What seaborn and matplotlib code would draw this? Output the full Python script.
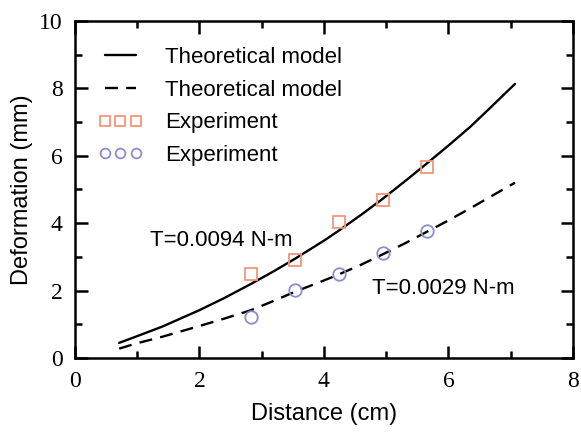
import matplotlib
matplotlib.use("Agg")
import matplotlib.pyplot as plt
from matplotlib.ticker import MultipleLocator
import seaborn as sns
import pandas as pd

# Theoretical curves
theory_x = [0.71, 1.0, 1.4, 2.0, 2.4, 2.83, 3.2, 3.54, 4.0, 4.24, 4.6, 4.95, 5.3, 5.66, 6.0, 6.36, 6.7, 7.07]
theory_high = [0.45, 0.65, 0.93, 1.42, 1.78, 2.2, 2.58, 2.95, 3.48, 3.78, 4.25, 4.73, 5.24, 5.78, 6.3, 6.87, 7.47, 8.13]
theory_low = [0.28, 0.44, 0.63, 0.95, 1.17, 1.42, 1.7, 1.97, 2.3, 2.48, 2.77, 3.08, 3.4, 3.75, 4.08, 4.45, 4.81, 5.2]

# Experimental points
exp_x = [2.83, 3.54, 4.24, 4.95, 5.66]
exp_high = [2.5, 2.9, 4.02, 4.68, 5.66]
exp_low = [1.23, 2.02, 2.49, 3.12, 3.77]

label_theory = "Theoretical model"
label_exp = "Experiment"
ann_high = "T=0.0094 N-m"
ann_low = "T=0.0029 N-m"

sns.set_theme(style="ticks")
plt.rcParams["font.family"] = ["Liberation Sans", "DejaVu Sans"]
plt.rcParams["text.color"] = "black"
plt.rcParams["axes.labelcolor"] = "black"

fig = plt.figure(figsize=(5.81, 4.34), dpi=100)
ax = fig.add_axes([0.129, 0.175, 0.857, 0.777])

df_th = pd.DataFrame({"x": theory_x, "hi": theory_high, "lo": theory_low})
df_ex = pd.DataFrame({"x": exp_x, "hi": exp_high, "lo": exp_low})

sns.lineplot(data=df_th, x="x", y="hi", ax=ax, color="black", lw=1.7,
             label=label_theory)
sns.lineplot(data=df_th, x="x", y="lo", ax=ax, color="black", lw=1.7,
             linestyle=(0, (5.5, 3.5)), label=label_theory)
ax.plot(df_ex["x"], df_ex["hi"], ls="none", marker="s", ms=8.5, mfc="none",
        mec="#f4967a", mew=1.3, label=label_exp)
ax.plot(df_ex["x"], df_ex["lo"], ls="none", marker="o", ms=9, mfc="none",
        mec="#8c8cd4", mew=1.3, label=label_exp)

ax.set_xlim(0, 8)
ax.set_ylim(0, 10)
ax.xaxis.set_major_locator(MultipleLocator(2))
ax.xaxis.set_minor_locator(MultipleLocator(1))
ax.yaxis.set_major_locator(MultipleLocator(2))
ax.yaxis.set_minor_locator(MultipleLocator(1))
ax.tick_params(which="both", direction="in", top=True, right=True,
               width=1.8, colors="black")
ax.tick_params(which="major", length=9, labelsize=17)
ax.tick_params(axis="x", which="major", pad=9)
ax.tick_params(axis="y", which="major", pad=9)
ax.tick_params(which="minor", length=5)
for lab in ax.get_xticklabels() + ax.get_yticklabels():
    lab.set_family(["Liberation Serif", "DejaVu Serif"])
for sp in ax.spines.values():
    sp.set_linewidth(1.8)
    sp.set_color("black")

ax.set_xlabel("Distance (cm)", fontsize=17, labelpad=8)
ax.set_ylabel("Deformation (mm)", fontsize=17, labelpad=4)

ax.text(1.2, 3.5, ann_high, fontsize=16, va="center", ha="left")
ax.text(4.77, 2.05, ann_low, fontsize=16, va="center", ha="left")

leg = ax.legend(loc="upper left", frameon=False, fontsize=16, numpoints=3,
                markerscale=0.78, handlelength=2.0, handletextpad=1.0,
                labelspacing=0.52, borderaxespad=0.3,
                bbox_to_anchor=(0.015, 0.968))

fig.savefig("out.png", dpi=100)
